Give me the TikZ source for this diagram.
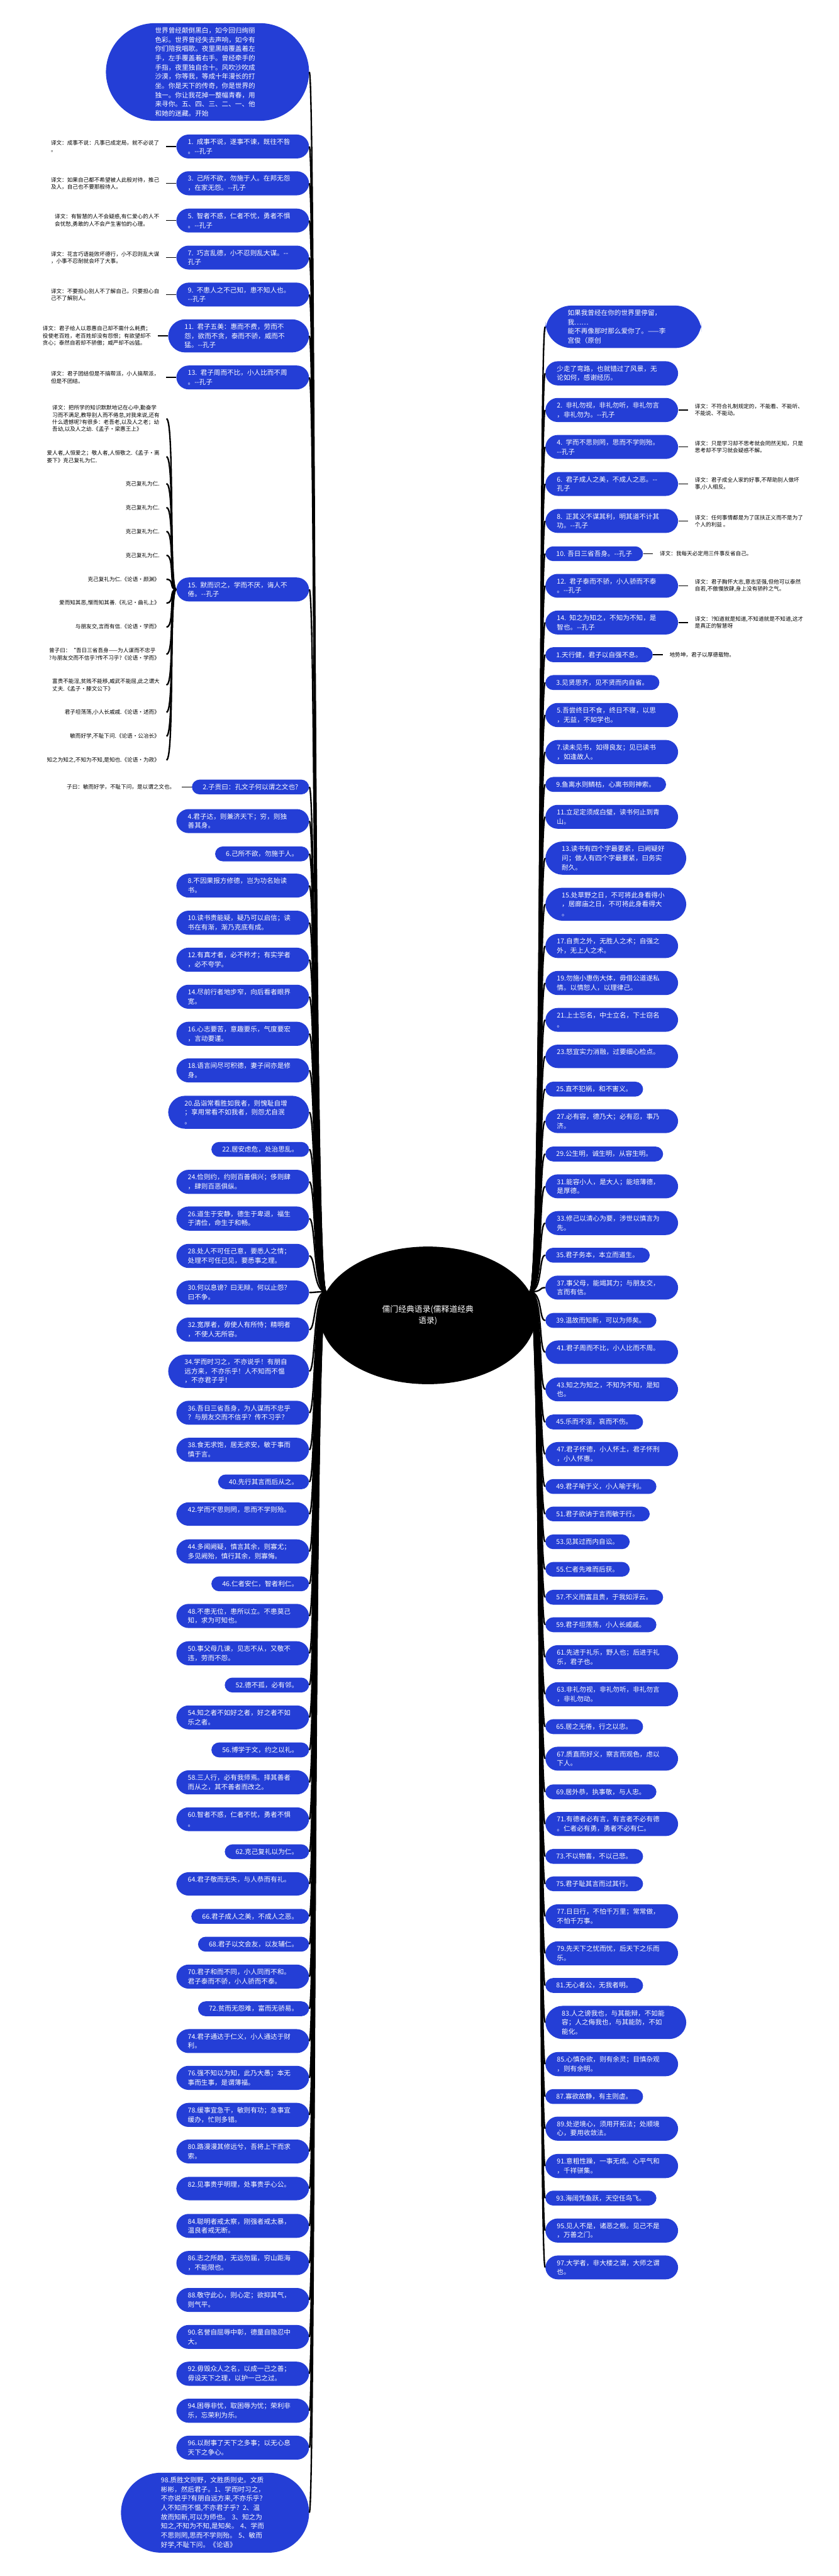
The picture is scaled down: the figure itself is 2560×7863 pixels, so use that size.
\documentclass[tikz,border=0pt]{standalone}
\usepackage{fontspec}
\usetikzlibrary{shapes.geometric}
\newfontfamily\cjk{Noto Sans CJK SC}
\definecolor{qblue}{RGB}{36,62,214}
\newcommand\qfont{\cjk\fontsize{5.8}{8}\selectfont}
\newcommand\nfont{\cjk\fontsize{4.7}{6.1}\selectfont}
\newcommand\dd{-\kern0pt-}
\begin{document}
\begin{tikzpicture}[x=0.1mm, y=-0.1mm,
  box/.style={fill=qblue, text=white, align=left, font=\qfont, inner ysep=1.3mm},
  one/.style={box, inner xsep=3.3mm, rounded corners=2.35mm},
  two/.style={box, text width=33.5mm, inner xsep=3.5mm, rounded corners=3.75mm},
  three/.style={box, text width=33mm, inner xsep=5mm, rounded corners=5.2mm},
  note/.style={font=\nfont, align=left, inner xsep=2mm, inner ysep=0.5mm},
  branch/.style={line width=0.45mm},
  tick/.style={line width=0.3mm}]

  \useasboundingbox[fill=white] (0,0) rectangle (2560,7863);

  % centre
  \node[ellipse, fill=black, text=white, font=\cjk\fontsize{7}{9.5}\selectfont,
    align=center, minimum width=66mm, minimum height=42mm, inner sep=0pt] (hub) at (1306,4015)
    {儒门经典语录(儒释道经典\\语录)};
  \coordinate (lroot) at (hub.167);
  \coordinate (rroot) at (hub.13);

  % left column
  \node[box, text width=32mm, inner xsep=15mm, rounded corners=15mm, anchor=north east] (ltop) at (944,70)
    {世界曾经颠倒黑白，如今回归绚丽\\色彩。世界曾经失去声响，如今有\\你们陪我唱歌。夜里黑暗覆盖着左\\手，左手覆盖着右手。曾经牵手的\\手指，夜里独自合十。风吹沙吹成\\沙漠，你等我，等成十年漫长的打\\坐。你是天下的传奇，你是世界的\\独一。你让我花掉一整幅青春，用\\来寻你。五、四、三、二、一、他\\和她的迷藏。开始};
  \node[two, anchor=north east] (lk1) at (944,410) {1. 成事不说，遂事不谏，既往不咎\\。\dd 孔子};
  \node[two, anchor=north east] (lk3) at (944,522) {3. 己所不欲，勿施于人。在邦无怨\\，在家无怨。\dd 孔子};
  \node[two, anchor=north east] (lk5) at (944,636) {5. 智者不惑，仁者不忧，勇者不惧\\。\dd 孔子};
  \node[two, anchor=north east] (lk7) at (944,749) {7. 巧言乱德，小不忍则乱大谋。\dd\\孔子};
  \node[two, anchor=north east] (lk9) at (944,862) {9. 不患人之不己知，患不知人也。\\\dd 孔子};
  \node[three, anchor=north east] (lk11) at (944,974) {11. 君子五美：惠而不费，劳而不\\怨，欲而不贪，泰而不骄，威而不\\猛。\dd 孔子};
  \node[two, anchor=north east] (lk13) at (944,1115) {13. 君子周而不比，小人比而不周\\。\dd 孔子};
  \node[two, anchor=north east] (lk15) at (944,1762) {15. 默而识之，学而不厌，诲人不\\倦。\dd 孔子};
  \node[one, anchor=north east] (l2) at (944,2379) {2.子贡曰：孔文子何以谓之文也?};
  \node[two, anchor=north east] (l4) at (944,2469) {4.君子达，则兼济天下；穷，则独\\善其身。};
  \node[one, anchor=north east] (l6) at (944,2583) {6.己所不欲，勿施于人。};
  \node[two, anchor=north east] (l8) at (944,2666) {8.不因果报方修德，岂为功名始读\\书。};
  \node[two, anchor=north east] (l10) at (944,2779) {10.读书贵能疑，疑乃可以启信；读\\书在有渐，渐乃克底有成。};
  \node[two, anchor=north east] (l12) at (944,2892) {12.有真才者，必不矜才；有实学者\\，必不夸学。};
  \node[two, anchor=north east] (l14) at (944,3005) {14.尽前行者地步窄，向后看者眼界\\宽。};
  \node[two, anchor=north east] (l16) at (944,3118) {16.心志要苦，意趣要乐，气度要宏\\，言动要谨。};
  \node[two, anchor=north east] (l18) at (944,3230) {18.语言间尽可积德，妻子间亦是修\\身。};
  \node[three, anchor=north east] (l20) at (944,3344) {20.品诣常看胜如我者，则愧耻自增\\；享用常看不如我者，则怨尤自泯\\。};
  \node[one, anchor=north east] (l22) at (944,3485) {22.居安虑危，处治思乱。};
  \node[two, anchor=north east] (l24) at (944,3570) {24.俭则约，约则百善俱兴；侈则肆\\，肆则百恶俱纵。};
  \node[two, anchor=north east] (l26) at (944,3682) {26.道生于安静，德生于卑退，福生\\于清俭，命生于和畅。};
  \node[two, anchor=north east] (l28) at (944,3796) {28.处人不可任己意，要悉人之情；\\处理不可任己见，要悉事之理。};
  \node[two, anchor=north east] (l30) at (944,3908) {30.何以息谤？曰无辩。何以止怨？\\曰不争。};
  \node[two, anchor=north east] (l32) at (944,4021) {32.宽厚者，毋使人有所恃；精明者\\，不使人无所容。};
  \node[three, anchor=north east] (l34) at (944,4134) {34.学而时习之，不亦说乎！有朋自\\远方来，不亦乐乎！人不知而不愠\\，不亦君子乎！};
  \node[two, anchor=north east] (l36) at (944,4275) {36.吾日三省吾身，为人谋而不忠乎\\？与朋友交而不信乎？传不习乎？};
  \node[two, anchor=north east] (l38) at (944,4388) {38.食无求饱，居无求安，敏于事而\\慎于言。};
  \node[one, anchor=north east] (l40) at (944,4500) {40.先行其言而后从之。};
  \node[two, anchor=north east] (l42) at (944,4585) {42.学而不思则罔，思而不学则殆。\\~};
  \node[two, anchor=north east] (l44) at (944,4698) {44.多闻阙疑，慎言其余，则寡尤；\\多见阙殆，慎行其余，则寡悔。};
  \node[one, anchor=north east] (l46) at (944,4811) {46.仁者安仁，智者利仁。};
  \node[two, anchor=north east] (l48) at (944,4895) {48.不患无位，患所以立。不患莫己\\知，求为可知也。};
  \node[two, anchor=north east] (l50) at (944,5009) {50.事父母几谏，见志不从，又敬不\\违，劳而不怨。};
  \node[one, anchor=north east] (l52) at (944,5120) {52.德不孤，必有邻。};
  \node[two, anchor=north east] (l54) at (944,5205) {54.知之者不如好之者，好之者不如\\乐之者。};
  \node[one, anchor=north east] (l56) at (944,5318) {56.博学于文，约之以礼。};
  \node[two, anchor=north east] (l58) at (944,5403) {58.三人行，必有我师焉。择其善者\\而从之，其不善者而改之。};
  \node[two, anchor=north east] (l60) at (944,5516) {60.智者不惑，仁者不忧，勇者不惧\\。};
  \node[one, anchor=north east] (l62) at (944,5629) {62.克己复礼以为仁。};
  \node[two, anchor=north east] (l64) at (944,5714) {64.君子敬而无失，与人恭而有礼。\\~};
  \node[one, anchor=north east] (l66) at (944,5826) {66.君子成人之美，不成人之恶。};
  \node[one, anchor=north east] (l68) at (944,5911) {68.君子以文会友，以友辅仁。};
  \node[two, anchor=north east] (l70) at (944,5996) {70.君子和而不同，小人同而不和。\\君子泰而不骄，小人骄而不泰。};
  \node[one, anchor=north east] (l72) at (944,6108) {72.贫而无怨难，富而无骄易。};
  \node[two, anchor=north east] (l74) at (944,6193) {74.君子通达于仁义，小人通达于财\\利。};
  \node[two, anchor=north east] (l76) at (944,6305) {76.强不知以为知，此乃大愚；本无\\事而生事，是谓薄福。};
  \node[two, anchor=north east] (l78) at (944,6418) {78.缓事宜急干，敏则有功；急事宜\\缓办，忙则多错。};
  \node[two, anchor=north east] (l80) at (944,6530) {80.路漫漫其修远兮，吾将上下而求\\索。};
  \node[two, anchor=north east] (l82) at (944,6644) {82.见事贵乎明理，处事贵乎心公。\\~};
  \node[two, anchor=north east] (l84) at (944,6757) {84.聪明者戒太察，刚强者戒太暴，\\温良者戒无断。};
  \node[two, anchor=north east] (l86) at (944,6870) {86.志之所趋，无远勿届，穷山距海\\，不能限也。};
  \node[two, anchor=north east] (l88) at (944,6983) {88.敬守此心，则心定；欲抑其气，\\则气平。};
  \node[two, anchor=north east] (l90) at (944,7096) {90.名誉自屈辱中彰，德量自隐忍中\\大。};
  \node[two, anchor=north east] (l92) at (944,7208) {92.毋毁众人之名，以成一己之善；\\毋设天下之理，以护一己之过。};
  \node[two, anchor=north east] (l94) at (944,7321) {94.困辱非忧，取困辱为忧；荣利非\\乐，忘荣利为乐。};
  \node[two, anchor=north east] (l96) at (944,7434) {96.以耐事了天下之多事；以无心息\\天下之争心。};
  \node[box, text width=33mm, inner xsep=12.2mm, rounded corners=12.2mm, anchor=north east] (l98) at (944,7547)
    {98.质胜文则野，文胜质则史。文质\\彬彬，然后君子。1、学而时习之，\\不亦说乎?有朋自远方来,不亦乐乎?\\人不知而不愠,不亦君子乎? 2、温\\故而知新,可以为师也。 3、知之为\\知之,不知为不知,是知矣。 4、学而\\不思则罔,思而不学则殆。 5、敏而\\好学,不耻下问。《论语》};

  % right column
  \node[box, text width=34mm, inner xsep=6.8mm, rounded corners=8mm, anchor=south west] (rtop) at (1664,1063)
    {如果我曾经在你的世界里停留，\\我……\\能不再像那时那么爱你了。——李\\宫俊（原创};
  \node[two, anchor=north west] (rroad) at (1664,1102) {少走了弯路，也就错过了风景，无\\论如何，感谢经历。};
  \node[two, anchor=north west] (rk2) at (1664,1214) {2. 非礼勿视，非礼勿听，非礼勿言\\，非礼勿为。\dd 孔子};
  \node[two, anchor=north west] (rk4) at (1664,1327) {4. 学而不思则罔，思而不学则殆。\\\dd 孔子};
  \node[two, anchor=north west] (rk6) at (1664,1440) {6. 君子成人之美，不成人之恶。\dd\\孔子};
  \node[two, anchor=north west] (rk8) at (1664,1553) {8. 正其义不谋其利，明其道不计其\\功。\dd 孔子};
  \node[one, anchor=north west] (rk10) at (1664,1667) {10. 吾日三省吾身。\dd 孔子};
  \node[two, anchor=north west] (rk12) at (1664,1751) {12. 君子泰而不骄，小人骄而不泰\\。\dd 孔子};
  \node[two, anchor=north west] (rk14) at (1664,1863) {14. 知之为知之，不知为不知，是\\智也。\dd 孔子};
  \node[one, anchor=north west] (r1) at (1664,1975) {1.天行健，君子以自强不息。};
  \node[one, anchor=north west] (r3) at (1664,2060) {3.见贤思齐，见不贤而内自省。};
  \node[two, anchor=north west] (r5) at (1664,2145) {5.吾尝终日不食，终日不寝，以思\\，无益，不如学也。};
  \node[two, anchor=north west] (r7) at (1664,2258) {7.读未见书，如得良友；见已读书\\，如逢故人。};
  \node[one, anchor=north west] (r9) at (1664,2371) {9.鱼离水则鳞枯，心离书则神索。};
  \node[two, anchor=north west] (r11) at (1664,2456) {11.立足定须成白璧，读书何止到青\\山。};
  \node[three, anchor=north west] (r13) at (1664,2568) {13.读书有四个字最要紧，曰阙疑好\\问；做人有四个字最要紧，曰务实\\耐久。};
  \node[three, anchor=north west] (r15) at (1664,2709) {15.处草野之日，不可将此身看得小\\，居廊庙之日，不可将此身看得大\\。};
  \node[two, anchor=north west] (r17) at (1664,2850) {17.自责之外，无胜人之术；自强之\\外，无上人之术。};
  \node[two, anchor=north west] (r19) at (1664,2963) {19.勿施小惠伤大体，毋借公道遂私\\情。以情恕人，以理律己。};
  \node[two, anchor=north west] (r21) at (1664,3076) {21.上士忘名，中士立名，下士窃名\\。};
  \node[two, anchor=north west] (r23) at (1664,3188) {23.怒宜实力消融，过要细心检点。\\~};
  \node[one, anchor=north west] (r25) at (1664,3301) {25.直不犯祸，和不害义。};
  \node[two, anchor=north west] (r27) at (1664,3385) {27.必有容，德乃大；必有忍，事乃\\济。};
  \node[one, anchor=north west] (r29) at (1664,3499) {29.公生明，诚生明，从容生明。};
  \node[two, anchor=north west] (r31) at (1664,3584) {31.能容小人，是大人；能培薄德，\\是厚德。};
  \node[two, anchor=north west] (r33) at (1664,3696) {33.修己以清心为要，涉世以慎言为\\先。};
  \node[one, anchor=north west] (r35) at (1664,3808) {35.君子务本，本立而道生。};
  \node[two, anchor=north west] (r37) at (1664,3893) {37.事父母，能竭其力；与朋友交，\\言而有信。};
  \node[one, anchor=north west] (r39) at (1664,4007) {39.温故而知新，可以为师矣。};
  \node[two, anchor=north west] (r41) at (1664,4091) {41.君子周而不比，小人比而不周。\\~};
  \node[two, anchor=north west] (r43) at (1664,4204) {43.知之为知之，不知为不知，是知\\也。};
  \node[one, anchor=north west] (r45) at (1664,4317) {45.乐而不淫，哀而不伤。};
  \node[two, anchor=north west] (r47) at (1664,4401) {47.君子怀德，小人怀土，君子怀刑\\，小人怀惠。};
  \node[one, anchor=north west] (r49) at (1664,4514) {49.君子喻于义，小人喻于利。};
  \node[one, anchor=north west] (r51) at (1664,4598) {51.君子欲讷于言而敏于行。};
  \node[one, anchor=north west] (r53) at (1664,4683) {53.见其过而内自讼。};
  \node[one, anchor=north west] (r55) at (1664,4767) {55.仁者先难而后获。};
  \node[one, anchor=north west] (r57) at (1664,4852) {57.不义而富且贵，于我如浮云。};
  \node[one, anchor=north west] (r59) at (1664,4936) {59.君子坦荡荡，小人长戚戚。};
  \node[two, anchor=north west] (r61) at (1664,5021) {61.先进于礼乐，野人也；后进于礼\\乐，君子也。};
  \node[two, anchor=north west] (r63) at (1664,5134) {63.非礼勿视，非礼勿听，非礼勿言\\，非礼勿动。};
  \node[one, anchor=north west] (r65) at (1664,5247) {65.居之无倦，行之以忠。};
  \node[two, anchor=north west] (r67) at (1664,5331) {67.质直而好义，察言而观色，虑以\\下人。};
  \node[one, anchor=north west] (r69) at (1664,5446) {69.居外恭，执事敬，与人忠。};
  \node[two, anchor=north west] (r71) at (1664,5530) {71.有德者必有言，有言者不必有德\\。仁者必有勇，勇者不必有仁。};
  \node[one, anchor=north west] (r73) at (1664,5643) {73.不以物喜，不以己悲。};
  \node[one, anchor=north west] (r75) at (1664,5727) {75.君子耻其言而过其行。};
  \node[two, anchor=north west] (r77) at (1664,5812) {77.日日行，不怕千万里；常常做，\\不怕千万事。};
  \node[two, anchor=north west] (r79) at (1664,5925) {79.先天下之忧而忧，后天下之乐而\\乐。};
  \node[one, anchor=north west] (r81) at (1664,6037) {81.无心者公，无我者明。};
  \node[three, anchor=north west] (r83) at (1664,6122) {83.人之谤我也，与其能辩，不如能\\容；人之侮我也，与其能防，不如\\能化。};
  \node[two, anchor=north west] (r85) at (1664,6263) {85.心慎杂欲，则有余灵；目慎杂观\\，则有余明。};
  \node[one, anchor=north west] (r87) at (1664,6376) {87.寡欲故静，有主则虚。};
  \node[two, anchor=north west] (r89) at (1664,6460) {89.处逆境心，须用开拓法；处顺境\\心，要用收敛法。};
  \node[two, anchor=north west] (r91) at (1664,6574) {91.意粗性躁，一事无成。心平气和\\，千祥骈集。};
  \node[one, anchor=north west] (r93) at (1664,6686) {93.海阔凭鱼跃，天空任鸟飞。};
  \node[two, anchor=north west] (r95) at (1664,6771) {95.见人不是，诸恶之根。见己不是\\，万善之门。};
  \node[two, anchor=north west] (r97) at (1664,6884) {97.大学者，非大楼之谓，大师之谓\\也。};

  % branches to the centre
  \foreach \n in {ltop,lk1,lk3,lk5,lk7,lk9,lk11,lk13,lk15,l2,l4,l6,l8,l10,l12,l14,l16,l18,l20,
      l22,l24,l26,l28,l30,l32,l34,l36,l38,l40,l42,l44,l46,l48,l50,l52,l54,l56,l58,l60,l62,l64,
      l66,l68,l70,l72,l74,l76,l78,l80,l82,l84,l86,l88,l90,l92,l94,l96,l98}
    \draw[branch] (lroot) .. controls +(-40,0) and +(20,0) .. (\n.east);
  \foreach \n in {rtop,rroad,rk2,rk4,rk6,rk8,rk10,rk12,rk14,r1,r3,r5,r7,r9,r11,r13,r15,r17,r19,
      r21,r23,r25,r27,r29,r31,r33,r35,r37,r39,r41,r43,r45,r47,r49,r51,r53,r55,r57,r59,r61,r63,
      r65,r67,r69,r71,r73,r75,r77,r79,r81,r83,r85,r87,r89,r91,r93,r95,r97}
    \draw[branch] (rroot) .. controls +(40,0) and +(-20,0) .. (\n.west);

  % translations, left
  \node[note, anchor=east] (ta1) at ([xshift=-3.1mm]lk1.west) {译文：成事不说：凡事已成定局，就不必说了\\。};
  \node[note, anchor=east] (ta3) at ([xshift=-3.1mm]lk3.west) {译文：如果自己都不希望被人此般对待，推己\\及人，自己也不要那般待人。};
  \node[note, anchor=east] (ta5) at ([xshift=-3.1mm]lk5.west) {译文：有智慧的人不会疑惑,有仁爱心的人不\\会忧愁,勇敢的人不会产生害怕的心理。};
  \node[note, anchor=east] (ta7) at ([xshift=-3.1mm]lk7.west) {译文：花言巧语能败坏德行，小不忍则乱大谋\\，小事不忍耐就会坏了大事。};
  \node[note, anchor=east] (ta9) at ([xshift=-3.1mm]lk9.west) {译文：不要担心别人不了解自己，只要担心自\\己不了解别人。};
  \node[note, anchor=east] (ta11) at ([xshift=-3.1mm]lk11.west) {译文：君子给人以恩惠自己却不需什么耗费；\\役使老百姓，老百姓却没有怨恨；有欲望却不\\贪心；泰然自若却不骄傲；威严却不凶猛。};
  \node[note, anchor=east] (ta13) at ([xshift=-3.1mm]lk13.west) {译文：君子团结但是不搞帮派，小人搞帮派，\\但是不团结。};
  \node[note, anchor=east] (ta2) at ([xshift=-3mm]l2.west) {子曰：敏而好学，不耻下问，是以谓之文也。};
  \foreach \n in {1,3,5,7,9,11,13}
    \draw[tick] (lk\n.west) -- (ta\n.east);
  \draw[tick] (l2.west) -- (ta2.east);

  % notes on 15
  \node[note, anchor=east] (f1) at (508,1278) {译文：把所学的知识默默地记在心中,勤奋学\\习而不满足,教导别人而不倦怠,对我来说,还有\\什么遗憾呢?有很多：老吾老,以及人之老；幼\\吾幼,以及人之幼.《孟子·梁惠王上》};
  \node[note, anchor=east] (f2) at (508,1394) {爱人者,人恒爱之；敬人者,人恒敬之.《孟子·离\\娄下》克己复礼为仁.};
  \node[note, anchor=east] (f3) at (508,1476) {克己复礼为仁.};
  \node[note, anchor=east] (f4) at (508,1549) {克己复礼为仁.};
  \node[note, anchor=east] (f5) at (508,1622) {克己复礼为仁.};
  \node[note, anchor=east] (f6) at (508,1695) {克己复礼为仁.};
  \node[note, anchor=east] (f7) at (508,1768) {克己复礼为仁.《论语·颜渊》};
  \node[note, anchor=east] (f8) at (508,1841) {爱而知其恶,憎而知其善.《礼记·曲礼上》};
  \node[note, anchor=east] (f9) at (508,1914) {与朋友交,言而有信.《论语·学而》};
  \node[note, anchor=east] (f10) at (508,1997) {曾子曰：“吾日三省吾身——为人谋而不忠乎\\?与朋友交而不信乎?传不习乎?《论语·学而》};
  \node[note, anchor=east] (f11) at (508,2091) {富贵不能淫,贫贱不能移,威武不能屈,此之谓大\\丈夫.《孟子·滕文公下》};
  \node[note, anchor=east] (f12) at (508,2174) {君子坦荡荡,小人长戚戚.《论语·述而》};
  \node[note, anchor=east] (f13) at (508,2247) {敏而好学,不耻下问.《论语·公冶长》};
  \node[note, anchor=east] (f14) at (508,2320) {知之为知之,不知为不知,是知也.《论语·为政》};
  \foreach \i in {1,...,14}
    \draw[branch] (lk15.west) .. controls +(-22,0) and +(25,0) .. (f\i.east);

  % translations, right
  \node[note, anchor=west] (tb2) at ([xshift=3mm]rk2.east) {译文：不符合礼制规定的，不能看、不能听、\\不能说、不能动。};
  \node[note, anchor=west] (tb4) at ([xshift=3mm]rk4.east) {译文：只是学习却不思考就会罔然无知，只是\\思考却不学习就会疑惑不解。};
  \node[note, anchor=west] (tb6) at ([xshift=3mm]rk6.east) {译文：君子成全人家的好事,不帮助别人做坏\\事,小人相反。};
  \node[note, anchor=west] (tb8) at ([xshift=3mm]rk8.east) {译文：任何事情都是为了匡扶正义而不是为了\\个人的利益 。};
  \node[note, anchor=west] (tb10) at ([xshift=3mm]rk10.east) {译文：我每天必定用三件事反省自己。};
  \node[note, anchor=west] (tb12) at ([xshift=3mm]rk12.east) {译文：君子胸怀大志,意志坚强,但他可以泰然\\自若,不傲慢放肆,身上没有骄矜之气。};
  \node[note, anchor=west] (tb14) at ([xshift=3mm]rk14.east) {译文：?知道就是知道,不知道就是不知道,这才\\是真正的智慧呀};
  \node[note, anchor=west] (tb1) at ([xshift=3mm]r1.east) {地势坤，君子以厚德载物。};
  \foreach \n in {2,4,6,8,10,12,14}
    \draw[tick] (rk\n.east) -- (tb\n.west);
  \draw[tick] (r1.east) -- (tb1.west);

\end{tikzpicture}
\end{document}
